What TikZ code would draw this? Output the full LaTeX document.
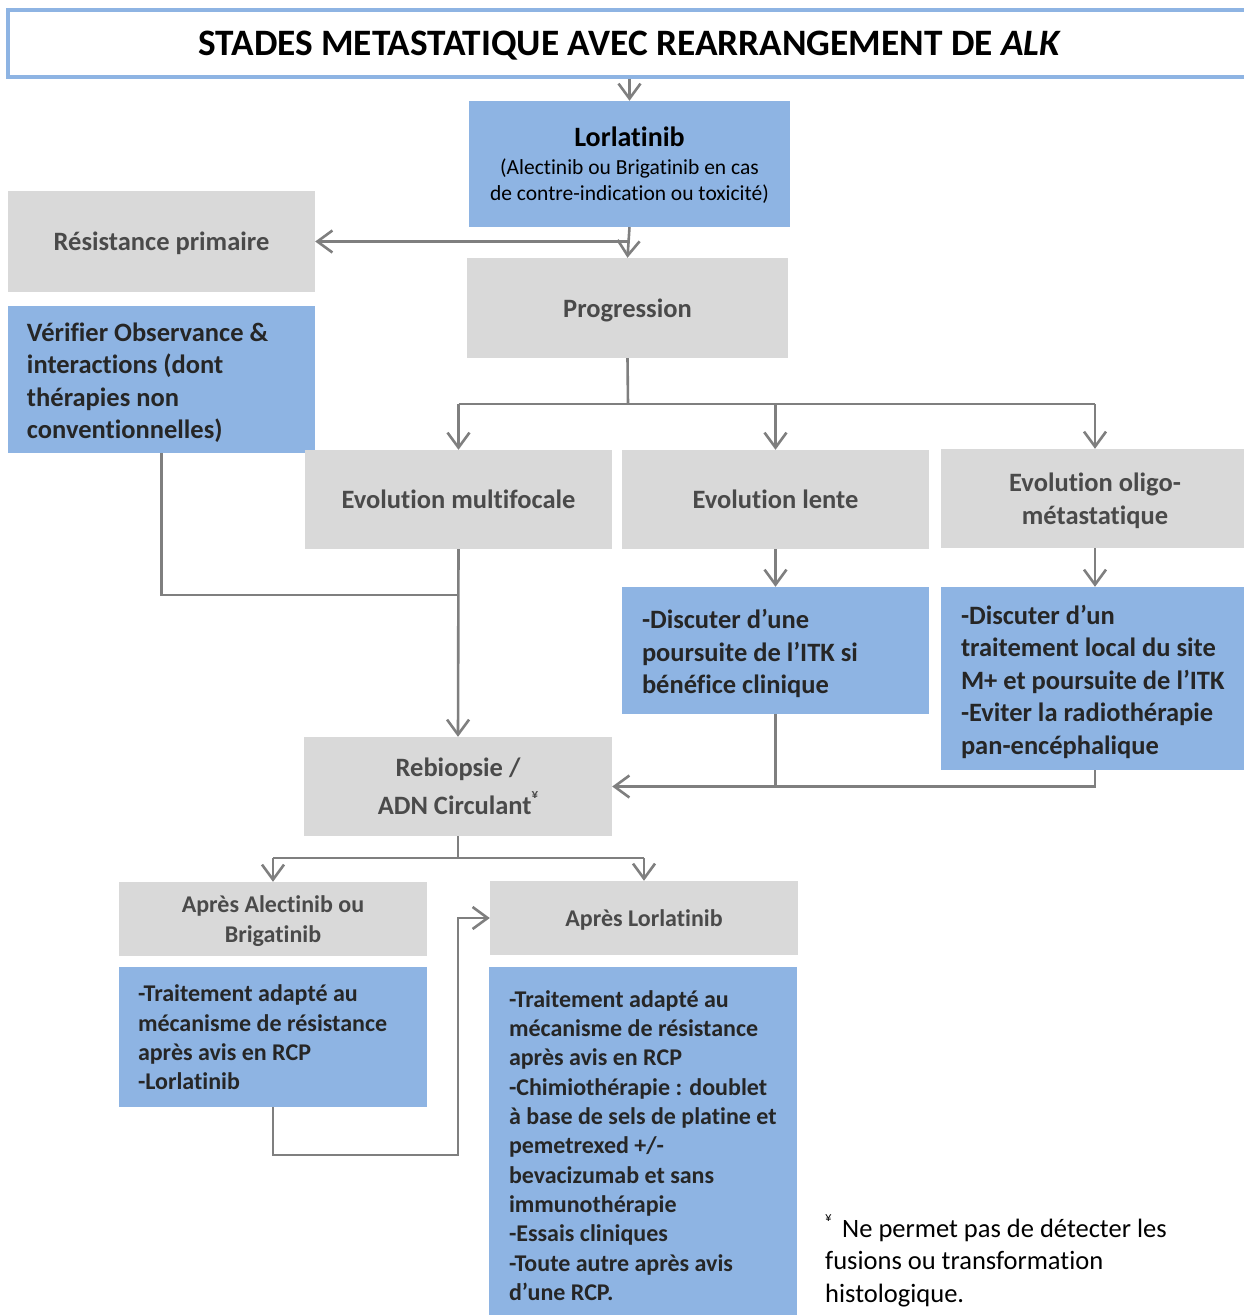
\documentclass[tikz,border=0pt]{standalone}
\usepackage{fontspec}
\setmainfont{Carlito}[Ligatures={NoCommon}]
\usetikzlibrary{arrows.meta}
\definecolor{boxblue}{HTML}{8EB4E3}
\definecolor{boxgray}{HTML}{D9D9D9}
\definecolor{linegray}{HTML}{7F7F7F}
\definecolor{graytext}{HTML}{4A4A4A}
\definecolor{bluetext}{HTML}{262626}
\tikzset{
  graybox/.style={fill=boxgray, draw=none, inner sep=0pt, align=center, text depth=-4pt,
    text=graytext, font=\fontsize{26.5}{33}\selectfont\bfseries},
  bluebox/.style={fill=boxblue, draw=none, inner sep=0pt},
  bluetext/.style={inner sep=0pt, anchor=west, text=bluetext,
    font=\fontsize{26.5}{32.5}\selectfont\bfseries},
  smallbox/.style={font=\fontsize{24}{29.3}\selectfont\bfseries},
  link/.style={draw=linegray, line width=2.6pt},
  arr/.style={link, -{Straight Barb[length=15pt,width=22pt,line width=2.6pt]}},
}
% left-aligned block of lines that never wraps
\newcommand{\textlines}[1]{\begin{tabular}{@{}l@{}}#1\end{tabular}}
\newcommand{\yen}{\raisebox{1.3ex}{\fontsize{13}{13}\selectfont ¥}}
\begin{document}
\begin{tikzpicture}[x=1pt,y=-1pt]
\useasboundingbox (0,0) rectangle (1243,1315);

% title
\node[draw=boxblue, line width=3.5pt, fill=white, minimum width=1244pt, minimum height=67pt,
      inner sep=0pt, text depth=0pt, font=\fontsize{37.3}{37.3}\selectfont\bfseries]
  (title) at (630,43.5) {STADES METASTATIQUE AVEC REARRANGEMENT DE \textit{ALK}};

% first line treatment
\node[fill=boxblue, minimum width=321pt, minimum height=126pt, inner sep=0pt, align=center,
      text depth=-2pt, font=\fontsize{21.5}{26}\selectfont]
  (lor) at (629.5,164) {{\fontsize{28}{30}\selectfont\bfseries Lorlatinib}\\[2pt]
  (Alectinib ou Brigatinib en cas\\de contre-indication ou toxicité)};

\node[graybox, minimum width=307pt, minimum height=101pt] (res) at (161.5,241.5) {Résistance primaire};
\node[graybox, minimum width=321pt, minimum height=100pt] (prog) at (627.5,308) {Progression};

\node[bluebox, minimum width=307pt, minimum height=147pt] (verif) at (161.5,379.5) {};
\node[bluetext] (veriftxt) at ([shift={(19,4)}]verif.west)
  {\textlines{Vérifier Observance \&\\interactions (dont\\thérapies non\\conventionnelles)}};

\node[graybox, minimum width=307pt, minimum height=99pt] (multi) at (458.5,499.5) {Evolution multifocale};
\node[graybox, minimum width=307pt, minimum height=99pt] (lente) at (775.5,499.5) {Evolution lente};
\node[graybox, minimum width=308pt, minimum height=99pt] (oligo) at (1095,498.5) {Evolution oligo-\\métastatique};

\node[bluebox, minimum width=307pt, minimum height=127pt] (lenteb) at (775.5,650.5) {};
\node[bluetext] (lentetxt) at ([shift={(20,4)}]lenteb.west)
  {\textlines{-Discuter d’une\\poursuite de l’ITK si\\bénéfice clinique}};
\node[bluebox, minimum width=308pt, minimum height=183pt] (oligob) at (1095,678.5) {};
\node[bluetext] (oligotxt) at ([shift={(20,4)}]oligob.west)
  {\textlines{-Discuter d’un\\traitement local du site\\M+ et poursuite de l’ITK\\-Eviter la radiothérapie\\pan-encéphalique}};

\node[graybox, minimum width=308pt, minimum height=99pt] (rebio) at (458,786.5)
  {Rebiopsie /\\[5pt]ADN Circulant\yen};

\node[graybox, smallbox, minimum width=308pt, minimum height=74pt] (apA) at (273,919)
  {Après Alectinib ou\\Brigatinib};
\node[graybox, smallbox, minimum width=308pt, minimum height=74pt] (apL) at (644,918)
  {Après Lorlatinib};

\node[bluebox, minimum width=308pt, minimum height=140pt] (apAb) at (273,1037) {};
\node[bluetext, smallbox] (apAtxt) at ([shift={(19,3)}]apAb.west)
  {\textlines{-Traitement adapté au\\mécanisme de résistance\\après avis en RCP\\-Lorlatinib}};
\node[bluebox, minimum width=308pt, minimum height=352pt] (apLb) at (643,1143) {};
\node[bluetext, smallbox] (apLtxt) at ([shift={(20,5)}]apLb.west)
  {\textlines{-Traitement adapté au\\mécanisme de résistance\\après avis en RCP\\-Chimiothérapie : doublet\\à base de sels de platine et\\pemetrexed +/-\\bevacizumab et sans\\immunothérapie\\-Essais cliniques\\-Toute autre après avis\\d’une RCP.}};

% footnote
\node[anchor=north west, align=left, inner sep=0pt, font=\fontsize{26.5}{32.5}\selectfont]
  (note) at (825,1214) {\yen\ \,Ne permet pas de détecter les\\fusions ou transformation\\histologique.};

% connectors
\draw[arr] (title.south -| lor.north) -- (lor.north);
\draw[arr] (lor.south) -- (prog.north);
\draw[arr] (lor.south |- res.east) -- (res.east);

\coordinate (s1) at (628,404);
\draw[link] (prog.south) -- (s1);
\draw[link] (multi.north |- s1) -- (oligo.north |- s1);
\draw[arr] (multi.north |- s1) -- (multi.north);
\draw[arr] (lente.north |- s1) -- (lente.north);
\draw[arr] (oligo.north |- s1) -- (oligo.north);

\draw[arr] (lente.south) -- (lenteb.north);
\draw[arr] (oligo.south) -- (oligob.north);

\coordinate (j1) at (458,595);
\draw[link] (verif.south) |- (j1);
\draw[arr] (multi.south) -- (rebio.north);

\draw[link] (lenteb.south) -- (lenteb.south |- rebio.east);
\draw[arr] (oligob.south) |- (rebio.east);

\coordinate (s2) at (458,858);
\draw[link] (rebio.south) -- (s2);
\draw[link] (apA.north |- s2) -- (apL.north |- s2);
\draw[arr] (apA.north |- s2) -- (apA.north);
\draw[arr] (apL.north |- s2) -- (apL.north);

\coordinate (c1) at (458,1155);
\draw[arr] (apAb.south) |- (c1) |- (apL.west);
\end{tikzpicture}
\end{document}
